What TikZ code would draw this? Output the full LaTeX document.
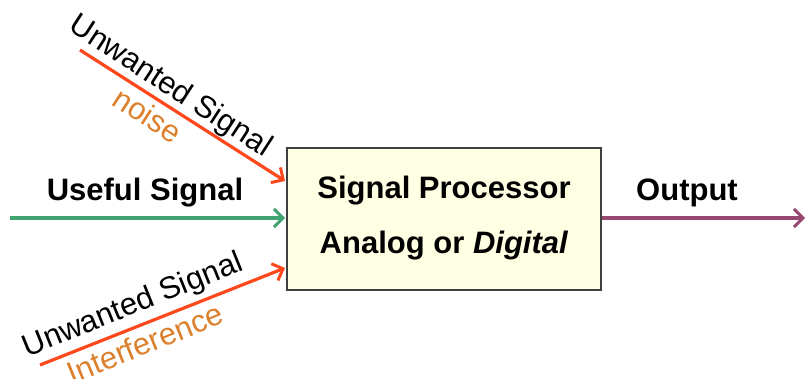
\documentclass[tikz,border=0pt]{standalone}
\usepackage{fontspec}
\setmainfont{Liberation Sans}
\usetikzlibrary{arrows.meta}
\usetikzlibrary{positioning}

\definecolor{noisered}{RGB}{255,72,28}
\definecolor{labelorange}{RGB}{220,128,44}
\definecolor{usefulgreen}{RGB}{64,164,112}
\definecolor{outpurple}{RGB}{150,72,112}
\definecolor{boxfill}{RGB}{255,255,228}
\definecolor{boxline}{RGB}{64,64,64}

\tikzset{
  bigtext/.style={font=\fontsize{31}{36}\selectfont},
  boldtext/.style={font=\fontsize{31}{36}\selectfont\bfseries},
  procbox/.style={draw=boxline, line width=1.8pt, fill=boxfill, minimum width=314pt, minimum height=142pt, align=center, inner sep=0pt},
  sig/.style={line width=3.2pt, -{Straight Barb[length=9pt,width=18pt,line width=3pt]}},
}

\begin{document}
\begin{tikzpicture}[x=1pt,y=-1pt]
    \useasboundingbox (0,0) rectangle (808,379);

    \node[procbox] (proc) at (444,219) {};
    \node[boldtext] (title) at (444,191) {Signal Processor};
    \node[boldtext] (kind) at (444,246) {Analog or \textit{Digital}};

    % inputs
    \coordinate (noisefrom) at (80,50);
    \coordinate (noiseto) at (285,181);
    \coordinate (usefulfrom) at (10,218);
    \coordinate (usefulto) at (285,218);
    \coordinate (interffrom) at (40,365);
    \coordinate (interfto) at (285,268);
    \coordinate (outto) at (805,218);

    \node[bigtext, rotate=-33] (unwantedA) at (170,87) {Unwanted Signal};
    \node[bigtext, rotate=-33, text=labelorange] (noise) at (148,115) {noise};
    \node[boldtext] (useful) at (145,193) {Useful Signal};
    \node[bigtext, rotate=22] (unwantedB) at (133,306) {Unwanted Signal};
    \node[bigtext, rotate=22, text=labelorange] (interf) at (145,343) {Interference};
    \node[boldtext] (output) at (687,193) {Output};

    \draw[sig, noisered] (noisefrom) -- (noiseto);
    \draw[sig, usefulgreen] (usefulfrom) -- (usefulto);
    \draw[sig, noisered] (interffrom) -- (interfto);
    \draw[sig, outpurple] (proc.east |- outto) -- (outto);
\end{tikzpicture}
\end{document}
